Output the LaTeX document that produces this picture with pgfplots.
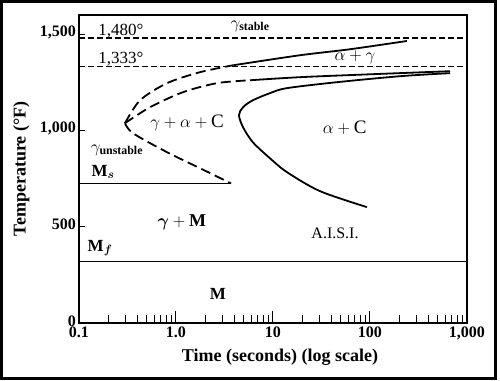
\documentclass[border=0pt]{standalone}
\usepackage{pgfplots}
\pgfplotsset{compat=1.18}
\usepackage{fontspec}
\setmainfont{Liberation Serif}
\usepackage{amsmath,bm}
\begin{document}
\begin{tikzpicture}[x=1pt,y=1pt]
\begin{axis}[
  at={(0,0)}, anchor=south west,
  width=388pt, height=308pt, scale only axis,
  xmode=log, xmin=0.1, xmax=1000, ymin=0, ymax=1600,
  xtick={0.1,1,10,100,1000}, xticklabels={0.1,1.0,10,100,{1,000}},
  ytick=\empty,
  extra y ticks={0,500,1000,1500}, extra y tick labels={0,500,{1,000},{1,500}},
  extra y tick style={major tick length=6pt, yticklabel style={yshift=2pt, xshift=-2pt}},
  tick align=inside, xtick pos=bottom, ytick pos=left,
  major tick length=12pt, minor tick length=8pt,
  every tick/.style={black, line width=1pt},
  axis line style={line width=1.3pt},
  ticklabel style={font=\fontsize{16}{18}\selectfont\bfseries, inner sep=1pt},
  xticklabel style={yshift=-3pt},
  label style={font=\fontsize{18}{20}\selectfont\bfseries},
  xlabel={Time (seconds) (log scale)},
  ylabel={Temperature (°F)},
  xlabel style={at={(axis description cs:0.518,-0.110)}, anchor=center},
  ylabel style={at={(axis description cs:-0.149,0.5)}, anchor=center},
]
% horizontal reference lines
\addplot[black, line width=1.3pt, dash pattern=on 6pt off 3pt] coordinates {(0.1,1480) (1000,1480)};
\addplot[black, line width=1.3pt, dash pattern=on 6pt off 3pt] coordinates {(0.1,1333) (1000,1333)};
\addplot[black, line width=1.6pt] coordinates {(0.1,725) (3.7,725)};
\addplot[black, line width=1.6pt] coordinates {(0.1,320) (1000,320)};
% start curve
\addplot[black, line width=1.8pt, dash pattern=on 10pt off 5pt, smooth] coordinates {(0.298,1038) (0.36,986) (0.81,887) (1.77,804) (3.7,725)};
\addplot[black, line width=1.8pt, dash pattern=on 10pt off 5pt, smooth] coordinates {(0.298,1038) (0.426,1157) (0.81,1246) (1.77,1303) (3.9,1339)};
\addplot[black, line width=1.8pt, smooth] coordinates {(3.9,1339) (19,1391) (62,1422) (240,1465)};
% middle curve
\addplot[black, line width=1.8pt, dash pattern=on 10pt off 5pt, smooth] coordinates {(0.298,1038) (0.54,1121) (1.18,1199) (2.65,1246) (5.8,1261)};
\addplot[black, line width=1.8pt, smooth] coordinates {(5.8,1261) (19,1277) (100,1292) (668,1308)};
% finish curve
\addplot[black, line width=1.8pt, smooth] coordinates {(93,602) (30.5,685) (13.9,784) (9.3,856) (6.2,939) (4.91,1017) (4.46,1080) (4.91,1121) (6.2,1157) (9.3,1194) (13.9,1220) (45.7,1251) (204,1282) (668,1298)};
% labels
\node[font=\fontsize{17}{19}\selectfont] at (axis cs:0.271,1515) {1,480°};
\node[font=\fontsize{17}{19}\selectfont] at (axis cs:0.271,1370) {1,333°};
\node[font=\fontsize{17}{19}\selectfont] at (axis cs:5.8,1541) {$\gamma_{\textbf{stable}}$};
\node[font=\fontsize{19}{21}\selectfont] at (axis cs:70,1380) {$\alpha+\gamma$};
\node[font=\fontsize{19}{21}\selectfont] at (axis cs:1.30,1038) {$\gamma+\alpha+\mathrm{C}$};
\node[font=\fontsize{19}{21}\selectfont] at (axis cs:55,1012) {$\alpha+\mathrm{C}$};
\node[font=\fontsize{17}{19}\selectfont] at (axis cs:0.246,898) {$\gamma_{\textbf{unstable}}$};
\node[font=\fontsize{17}{19}\selectfont] at (axis cs:0.177,784) {$\mathbf{M}_{\bm{s}}$};
\node[font=\fontsize{17}{19}\selectfont] at (axis cs:0.165,389) {$\mathbf{M}_{\bm{f}}$};
\node[font=\fontsize{18}{20}\selectfont] at (axis cs:1.15,524) {$\bm{\gamma}+\mathbf{M}$};
\node[font=\fontsize{16}{18}\selectfont] at (axis cs:43.6,467) {A.I.S.I.};
\node[font=\fontsize{17}{19}\selectfont\bfseries] at (axis cs:2.71,150) {M};
\end{axis}
\draw[line width=3pt] (-77.5,-55.5) rectangle (416.5,321.5);
\pgfresetboundingbox
\path[use as bounding box] (-79,-57) rectangle (421,323);
\end{tikzpicture}
\end{document}
